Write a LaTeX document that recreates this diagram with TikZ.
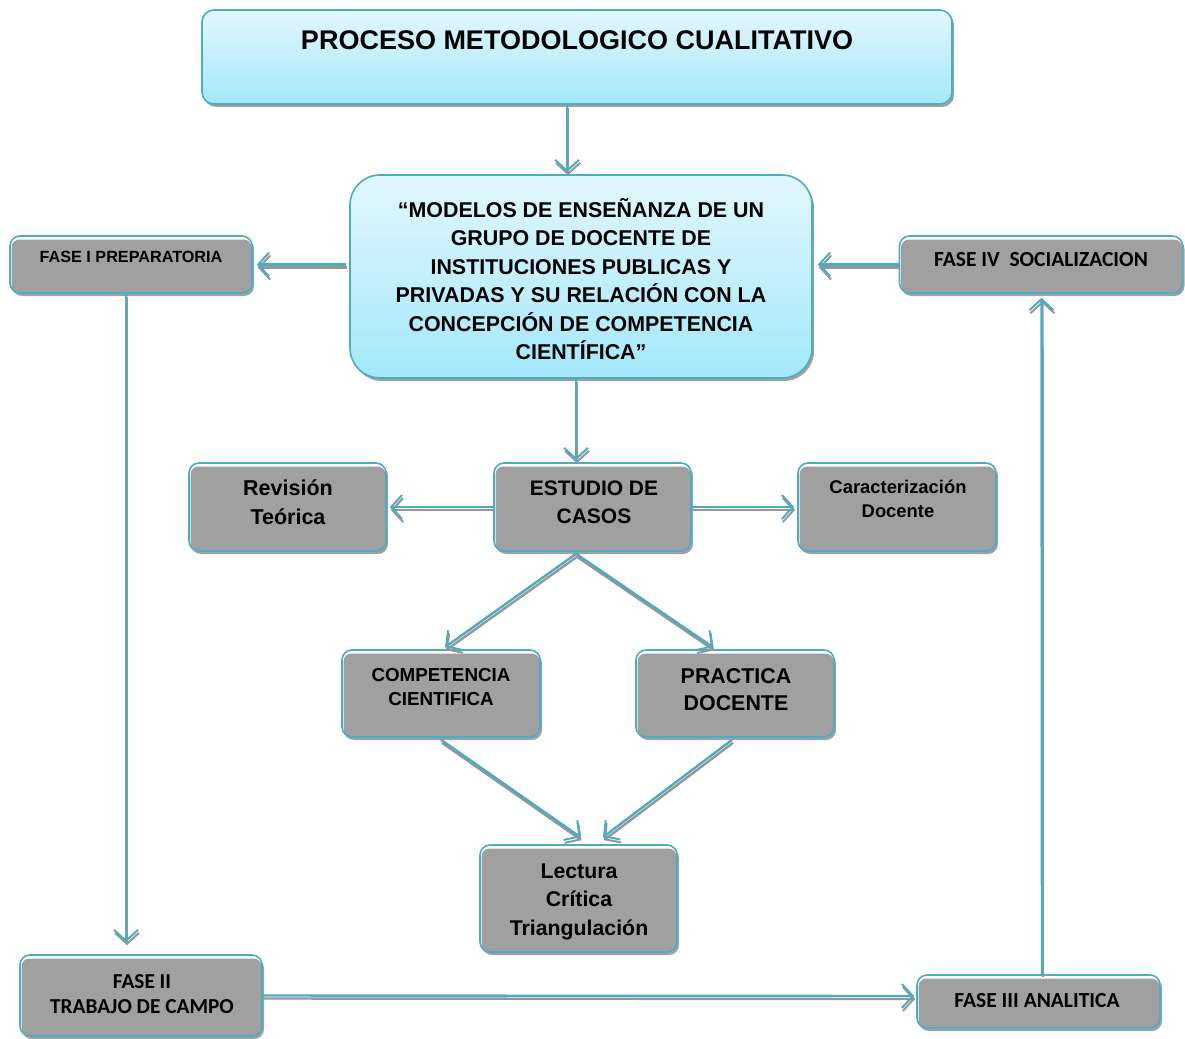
\documentclass[tikz,border=0pt]{standalone}
\usepackage{fontspec}
\setmainfont{Liberation Sans}
\newfontfamily\calib{Carlito}
\usetikzlibrary{arrows.meta,shadows,calc}
\definecolor{edge}{RGB}{75,172,198}
\definecolor{cellgray}{RGB}{160,160,160}
\definecolor{dropgray}{RGB}{150,150,150}
\definecolor{skytop}{RGB}{226,247,253}
\definecolor{skybot}{RGB}{163,232,250}
\tikzset{
  shadowed/.style={drop shadow={shadow xshift=2pt,shadow yshift=-3pt,fill=dropgray,opacity=0.9}},
  graybox/.style={shadowed, draw=edge, line width=1.6pt, rounded corners=10pt, fill=white, inner sep=0pt,
    path picture={\fill[cellgray,rounded corners=8pt]
      ([xshift=1.5pt,yshift=-3.5pt]path picture bounding box.north west) rectangle
      ([xshift=-0.5pt,yshift=0.5pt]path picture bounding box.south east);}},
  skybox/.style={shadowed, draw=edge, line width=1.6pt, top color=skytop, bottom color=skybot, inner sep=0pt},
  txt/.style={align=center, inner sep=0pt, text=black},
  tip/.style={-{Straight Barb[length=11pt,width=24pt,line width=2pt]}},
  conn/.style={line width=2.4pt, tip,
    preaction={draw=dropgray, line width=2.4pt, tip, transform canvas={xshift=1pt,yshift=-3pt}},
    draw=edge}
}
\begin{document}
\begin{tikzpicture}[x=1pt,y=-1pt]
\useasboundingbox (0,0) rectangle (1185,1038);

% boxes
\node[skybox, rounded corners=12pt, minimum width=750pt, minimum height=94pt] (title) at (577,57) {};
\node[skybox, rounded corners=30pt, minimum width=462pt, minimum height=203pt] (main) at (581,276.5) {};
\node[graybox, minimum width=242pt, minimum height=57pt] (f1) at (131,264.5) {};
\node[graybox, minimum width=283pt, minimum height=57pt] (f4) at (1041,264.5) {};
\node[graybox, minimum width=197pt, minimum height=88pt] (rev) at (287.5,507) {};
\node[graybox, minimum width=197pt, minimum height=88pt] (est) at (592.5,507) {};
\node[graybox, minimum width=198pt, minimum height=88pt] (car) at (897,507) {};
\node[graybox, minimum width=198pt, minimum height=87pt] (comp) at (441,693.5) {};
\node[graybox, minimum width=198pt, minimum height=87pt] (prac) at (735,693.5) {};
\node[graybox, minimum width=197pt, minimum height=107pt] (lect) at (578.5,898.5) {};
\node[graybox, minimum width=242pt, minimum height=81pt] (f2) at (141,995.5) {};
\node[graybox, minimum width=243pt, minimum height=53pt] (f3) at (1038.5,1001.5) {};

% texts
\node[txt, font=\fontsize{27}{30}\selectfont\bfseries] (titlet) at (577,40) {PROCESO METODOLOGICO CUALITATIVO};
\node[txt, font=\fontsize{21.4}{28.5}\selectfont\bfseries] (maint) at (581,279)
  {“MODELOS DE ENSEÑANZA DE UN\\GRUPO DE DOCENTE DE\\INSTITUCIONES PUBLICAS Y\\PRIVADAS Y SU RELACIÓN CON LA\\CONCEPCIÓN DE COMPETENCIA\\CIENTÍFICA”};
\node[txt, font=\fontsize{16.2}{18}\selectfont\bfseries] (f1t) at (131,257) {FASE I PREPARATORIA};
\node[txt, font=\fontsize{21.5}{24}\selectfont\calib\bfseries] (f4t) at (1041,260) {FASE IV\ \ SOCIALIZACION};
\node[txt, font=\fontsize{21.5}{29}\selectfont\bfseries] (revt) at (288,502) {Revisión\\Teórica};
\node[txt, font=\fontsize{21}{28}\selectfont\bfseries] (estt) at (594,502) {ESTUDIO DE\\CASOS};
\node[txt, font=\fontsize{18.4}{24}\selectfont\bfseries] (cart) at (898,499) {Caracterización\\Docente};
\node[txt, font=\fontsize{18.8}{24}\selectfont\bfseries] (compt) at (441,687) {COMPETENCIA\\CIENTIFICA};
\node[txt, font=\fontsize{21.4}{27}\selectfont\bfseries] (pract) at (736,690) {PRACTICA\\DOCENTE};
\node[txt, font=\fontsize{21.3}{28.5}\selectfont\bfseries] (lectt) at (579,901.5) {Lectura\\Crítica\\Triangulación};
\node[txt, font=\fontsize{21.3}{25}\selectfont\calib\bfseries] (f2t) at (142,994.5) {FASE II\\TRABAJO DE CAMPO};
\node[txt, font=\fontsize{21.5}{24}\selectfont\calib\bfseries] (f3t) at (1037,1001) {FASE III ANALITICA};

% connectors
\draw[conn] ($(title.south)+(-10,0)$) -- ($(main.north)+(-14,-2)$);
\draw[conn] ($(main.west)+(-3,-12)$) -- ($(f1.east)+(4,0)$);
\draw[conn] (f4.west) -- ($(main.east)+(5,-12)$);
\draw[conn] ($(f1.south)+(-5,0)$) -- ($(f2.north)+(-15,-12)$);
\draw[conn] ($(f2.east)+(0,0)$) -- ($(f3.west)+(-2,-5.5)$);
\draw[conn] ($(f3.north)+(3.5,0)$) -- ($(f4.south)+(0.5,4)$);
\draw[conn] ($(main.south)+(-5,0)$) -- ($(est.north)+(-16.5,-2)$);
\draw[conn] (est.west) -- ($(rev.east)+(3,0)$);
\draw[conn] (est.east) -- ($(car.west)+(-3,0)$);
\draw[conn] ($(est.south)+(-16.5,2)$) -- ($(comp.north)+(4,-2)$);
\draw[conn] ($(est.south)+(-16.5,2)$) -- ($(prac.north)+(-22,-2)$);
\draw[conn] ($(comp.south)+(0,2)$) -- ($(lect.north)+(2,-7)$);
\draw[conn] ($(prac.south)+(-3,2)$) -- ($(lect.north)+(24.5,-7)$);
\end{tikzpicture}
\end{document}
